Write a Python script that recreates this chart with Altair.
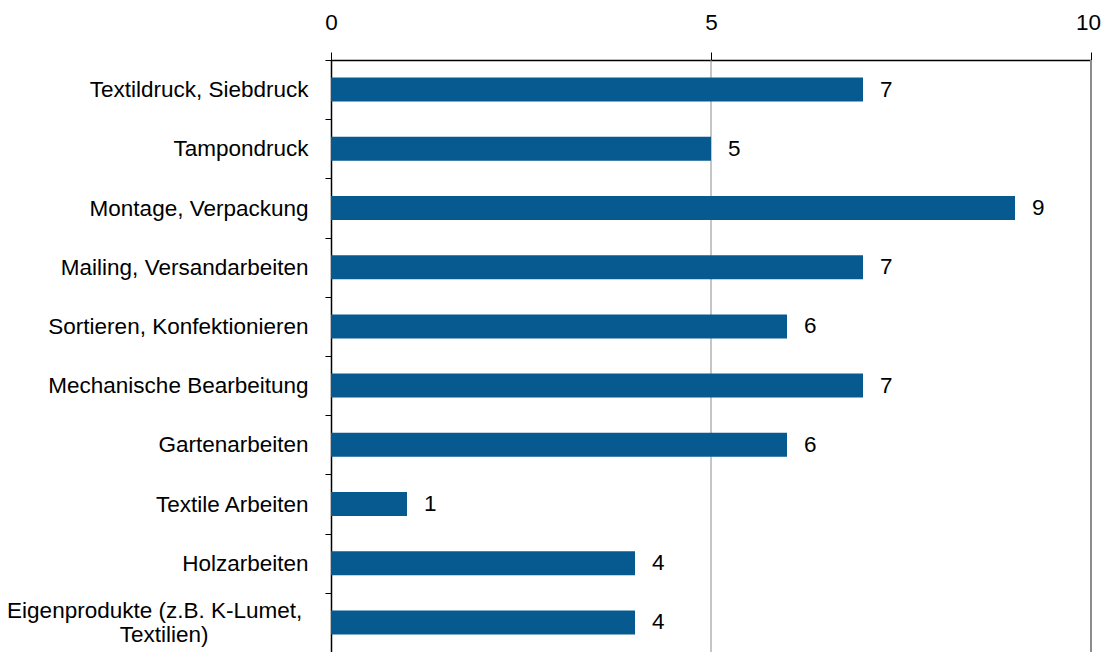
import altair as alt
import pandas as pd

categories = [
    "Textildruck, Siebdruck",
    "Tampondruck",
    "Montage, Verpackung",
    "Mailing, Versandarbeiten",
    "Sortieren, Konfektionieren",
    "Mechanische Bearbeitung",
    "Gartenarbeiten",
    "Textile Arbeiten",
    "Holzarbeiten",
    "Eigenprodukte (z.B. K-Lumet, Textilien)",
]
values = [7, 5, 9, 7, 6, 7, 6, 1, 4, 4]
x_ticks = [0, 5, 10]

df = pd.DataFrame({"cat": categories, "val": values})
FONT = "Liberation Sans"
FS = 22.5
LONG = "Eigenprodukte (z.B. K-Lumet, Textilien)"
pad1 = "\u00a0" + "\u200b"
pad2 = "\u00a0" * 16 + "\u200b"

y_enc = alt.Y(
    "cat:N",
    sort=categories,
    scale=alt.Scale(paddingInner=0, paddingOuter=0),
    axis=alt.Axis(
        title=None,
        labelFont=FONT,
        labelFontSize=FS,
        labelColor="#000000",
        labelPadding=17,
        labelLimit=500,
        tickBand="extent",
        tickSize=6,
        tickColor="#000000",
        domainColor="#000000",
        domainWidth=1.5,
        labelExpr=(
            "datum.label == '" + LONG + "' ? "
            "['Eigenprodukte (z.B. K-Lumet," + pad1 + "', 'Textilien)" + pad2 + "'] : datum.label"
        ),
        labelLineHeight=24,
        labelOffset={"condition": {"test": "datum.value == '" + LONG + "'", "value": -12}, "value": 0},
    ),
)

x_scale = alt.Scale(domain=[0, 10], nice=False)

bars = alt.Chart(df).mark_bar(color="#065A8F", size=24).encode(
    x=alt.X(
        "val:Q",
        scale=x_scale,
        axis=alt.Axis(
            orient="top",
            values=x_ticks,
            format="d",
            title=None,
            grid=False,
            labelFont=FONT,
            labelFontSize=FS,
            labelColor="#000000",
            labelPadding=18,
            tickSize=8,
            tickColor="#000000",
            domainColor="#000000",
            domainWidth=1.5,
            labelFlush=False,
            labelOffset={"condition": {"test": "datum.value == 10", "value": -3}, "value": 0},
        ),
    ),
    y=y_enc,
)

text = alt.Chart(df).mark_text(
    align="left", baseline="middle", dx=17, font=FONT, fontSize=FS, color="#000000"
).encode(x=alt.X("val:Q", scale=x_scale), y=alt.Y("cat:N", sort=categories), text="val:Q")

grid_df = pd.DataFrame({"g": [5, 10], "w": [1, 2]})
grid = alt.Chart(grid_df).mark_rule(color="#8c8c8c").encode(
    x=alt.X("g:Q", scale=x_scale),
    strokeWidth=alt.StrokeWidth("w:Q", scale=None, legend=None),
)

chart = (
    alt.layer(grid, bars, text)
    .properties(
        width=760,
        height=592,
        autosize=alt.AutoSizeParams(type="none"),
        padding={"left": 323, "top": 52, "right": 10, "bottom": 0},
    )
    .configure_view(stroke=None)
    .configure(background="#ffffff")
)

chart.save("out.html", embed_options={"renderer": "svg", "actions": False})
